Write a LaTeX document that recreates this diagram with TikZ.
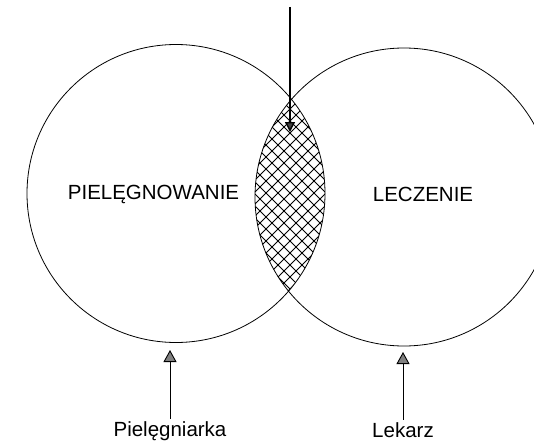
\documentclass[tikz,border=0pt]{standalone}
\usepackage{fontspec}
\setmainfont{Liberation Sans}
\usetikzlibrary{arrows.meta}
\begin{document}
\begin{tikzpicture}[x=1pt,y=-1pt,
  circ/.style={circle,draw,line width=0.8pt,minimum size=298pt,inner sep=0pt},
  lbl/.style={font=\fontsize{20.5}{24}\selectfont,anchor=base,inner sep=2pt},
  uparrow/.style={line width=0.9pt,-{Triangle[width=13pt,length=12pt,fill=black!50]}},
  downarrow/.style={line width=1.4pt,-{Triangle[width=10pt,length=10pt,fill=black!75]}},
  hatch/.style={line width=0.9pt}]
\useasboundingbox (0,0) rectangle (534,444);
\clip (0,0) rectangle (534,444);
% hatch in the lens
\begin{scope}
  \clip (176,193.5) circle[radius=149pt];
  \clip (404,197) circle[radius=149pt];
  \foreach \k in {-13,...,13}{
    \draw[hatch] (\k*12+140,43) -- ++(300,300);
    \draw[hatch] (\k*12+440,43) -- ++(-300,300);
  }
\end{scope}
\node[circ] (left) at (176,193.5) {};
\node[circ] (right) at (404,197) {};
\node[lbl] (piel) at (153.5,199) {PIELĘGNOWANIE};
\node[lbl] (lecz) at (423,201.5) {LECZENIE};
\node[lbl] (pl) at (170,436) {Pielęgniarka};
\node[lbl] (lk) at (403,437) {Lekarz};
\coordinate (plTip) at (170,350);
\coordinate (lkTip) at (403,352);
\coordinate (topStart) at (290,7);
\coordinate (topTip) at (290,132);
\draw[uparrow] (pl.north) -- (plTip);
\draw[uparrow] (lk.north) -- (lkTip);
\draw[downarrow] (topStart) -- (topTip);
\end{tikzpicture}
\end{document}
